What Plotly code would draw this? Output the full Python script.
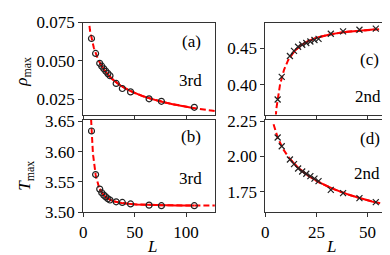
import numpy as np
import plotly.graph_objects as go

# ---- data ----
L_3rd = [8, 12, 16, 18, 20, 22, 24, 26, 32, 38, 46, 64, 76, 108]
rho_3rd = [0.0646, 0.0549, 0.0485, 0.0466, 0.0449, 0.0433, 0.0418, 0.0404,
           0.0354, 0.0321, 0.0299, 0.0254, 0.0238, 0.0199]
T_3rd = [3.634, 3.562, 3.538, 3.532, 3.528, 3.525, 3.522, 3.520,
         3.517, 3.516, 3.5135, 3.5115, 3.5106, 3.5106]

L_2nd = [6, 8, 12, 14, 16, 18, 20, 22, 24, 26, 32, 38, 46, 54]
rho_2nd = [0.3796, 0.4106, 0.4391, 0.4462, 0.4518, 0.4545, 0.4570, 0.4590,
           0.4610, 0.4625, 0.4696, 0.4729, 0.4751, 0.4767]
T_2nd = [2.134, 2.072, 1.978, 1.945, 1.914, 1.893, 1.877, 1.860,
         1.842, 1.825, 1.763, 1.739, 1.704, 1.676]

SOLID_MIN_3RD = 16
SOLID_MIN_2ND = 12


def power_fit(L, y):
    L = np.asarray(L, float)
    y = np.asarray(y, float)
    best = None
    for c in np.linspace(0.05, 4.0, 800):
        X = np.vstack([np.ones(len(L)), L ** -c]).T
        coef, *_ = np.linalg.lstsq(X, y, rcond=None)
        sse = np.sum((X @ coef - y) ** 2)
        if best is None or sse < best[0]:
            best = (sse, coef[0], coef[1], c)
    _, a, b, c = best
    return lambda x: a + b * np.asarray(x, float) ** -c


FONT = "Liberation Serif, Times New Roman, DejaVu Serif, serif"
FS = 17
RED = "red"

fig = go.Figure()

panels = [
    (L_3rd, rho_3rd, SOLID_MIN_3RD, "x", "y", "circle-open", 128),
    (L_3rd, T_3rd, SOLID_MIN_3RD, "x2", "y2", "circle-open", 128),
    (L_2nd, rho_2nd, SOLID_MIN_2ND, "x3", "y3", "x-thin-open", 63.4),
    (L_2nd, T_2nd, SOLID_MIN_2ND, "x4", "y4", "x-thin-open", 63.4),
]

for L, y, lmin, xa, ya, sym, xmax in panels:
    f = power_fit(L, y)
    grid = np.linspace(4, xmax, 400)
    fig.add_trace(go.Scatter(x=grid, y=f(grid), mode="lines", xaxis=xa, yaxis=ya,
                             line=dict(color=RED, width=2, dash="6px,3px"),
                             showlegend=False, hoverinfo="skip"))
    sgrid = np.linspace(lmin, max(L), 200)
    fig.add_trace(go.Scatter(x=sgrid, y=f(sgrid), mode="lines", xaxis=xa, yaxis=ya,
                             line=dict(color=RED, width=2),
                             showlegend=False, hoverinfo="skip"))
    fig.add_trace(go.Scatter(x=L, y=y, mode="markers", xaxis=xa, yaxis=ya,
                             marker=dict(symbol=sym, size=6, color="#222",
                                         line=dict(width=1.2, color="#222")),
                             showlegend=False))

W, H = 390, 255


def px_x(p):
    return p / W


def px_y(p):
    return 1 - p / H


axis_common = dict(showline=True, linecolor="#333", linewidth=1, mirror=True,
                   ticks="outside", ticklen=4, tickcolor="#333", showgrid=False,
                   zeroline=False, tickfont=dict(family=FONT, size=FS, color="black"))

dom_left = [px_x(72), px_x(205)]
dom_right = [px_x(256), px_x(387)]
dom_top = [px_y(106), px_y(7)]
dom_bot = [px_y(211), px_y(112)]

fig.update_layout(
    width=W, height=H, margin=dict(l=0, r=0, t=0, b=0),
    paper_bgcolor="white", plot_bgcolor="white",
    font=dict(family=FONT, size=FS, color="black"),
    xaxis=dict(domain=dom_left, anchor="y", range=[0, 128], tickvals=[0, 50, 100],
               showticklabels=False, **axis_common),
    yaxis=dict(domain=dom_top, anchor="x", range=[0.0152, 0.075],
               tickvals=[0.025, 0.050, 0.075], ticktext=["0.025", "0.050", "0.075"],
               **axis_common),
    xaxis2=dict(domain=dom_left, anchor="y2", range=[0, 128], tickvals=[0, 50, 100],
                **axis_common),
    yaxis2=dict(domain=dom_bot, anchor="x2", range=[3.5, 3.652],
                tickvals=[3.50, 3.55, 3.60, 3.65], ticktext=["3.50", "3.55", "3.60", "3.65"],
                **axis_common),
    xaxis3=dict(domain=dom_right, anchor="y3", range=[0, 63.4], tickvals=[0, 25, 50],
                showticklabels=False, **axis_common),
    yaxis3=dict(domain=dom_top, anchor="x3", range=[0.359, 0.485],
                tickvals=[0.40, 0.45], ticktext=["0.40", "0.45"], **axis_common),
    xaxis4=dict(domain=dom_right, anchor="y4", range=[0, 63.4], tickvals=[0, 25, 50],
                **axis_common),
    yaxis4=dict(domain=dom_bot, anchor="x4", range=[1.605, 2.257],
                tickvals=[1.75, 2.00, 2.25], ticktext=["1.75", "2.00", "2.25"],
                **axis_common),
)

labels = [
    ("(a)", 181, 27), ("3rd", 180, 69),
    ("(b)", 181, 130), ("3rd", 180, 175),
    ("(c)", 361, 47), ("2nd", 360, 87),
    ("(d)", 362, 132), ("2nd", 359, 169),
    ("<i>L</i>", 141, 248), ("<i>L</i>", 322, 248),
]
for t, x, y in labels:
    fig.add_annotation(text=t, x=px_x(x), y=px_y(y), xref="paper", yref="paper",
                       showarrow=False, xanchor="center", yanchor="middle",
                       font=dict(family=FONT, size=FS, color="black"))

fig.add_annotation(text="<i>ρ</i><sub>max</sub>", x=px_x(11), y=px_y(60), xref="paper",
                   yref="paper", showarrow=False, textangle=-90, xanchor="center",
                   yanchor="middle", font=dict(family=FONT, size=FS, color="black"))
fig.add_annotation(text="<i>T</i><sub>max</sub>", x=px_x(14), y=px_y(172), xref="paper",
                   yref="paper", showarrow=False, textangle=-90, xanchor="center",
                   yanchor="middle", font=dict(family=FONT, size=FS, color="black"))

fig.write_html("out.html")
